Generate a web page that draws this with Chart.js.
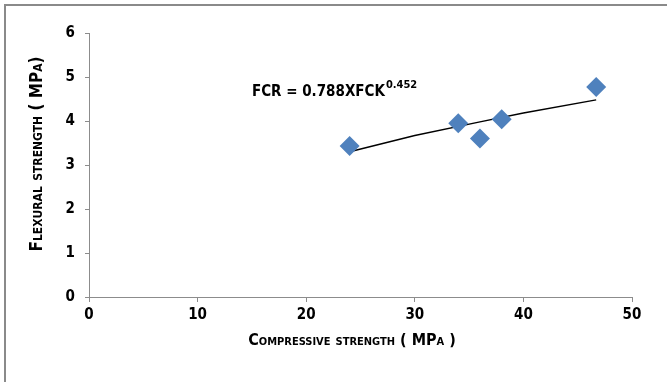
<!DOCTYPE html>
<html><head><meta charset="utf-8">
<script src="https://cdn.jsdelivr.net/npm/chart.js@4.4.0/dist/chart.umd.min.js"></script>
<style>html,body{margin:0;padding:0;background:#fff}#wrap{width:667px;height:382px}</style>
</head><body><div id="wrap"><canvas id="c" width="667" height="382"></canvas></div>
<script>
const compressive = [24, 34, 36, 38, 46.7];
const flexural = [3.43, 3.95, 3.6, 4.04, 4.77];
const trendX = [24, 30, 36, 40, 46.7];
const trendY = [3.30, 3.67, 3.98, 4.18, 4.48];
const xTicks = [0, 10, 20, 30, 40, 50];
const yTicks = [0, 1, 2, 3, 4, 5, 6];
const xTitle = "Compressive strength ( MPa )";
const yTitle = "Flexural strength ( MPa)";
const eqMain = "FCR = 0.788XFCK";
const eqSup = "0.452";

const FAM = "'DejaVu Sans Condensed', 'DejaVu Sans', sans-serif";
const GRAY = '#8c8c8c';

const decor = {
  id: 'decor',
  afterDraw(chart) {
    const ctx = chart.ctx;
    ctx.save();
    ctx.strokeStyle = '#8a8a8a';
    ctx.lineWidth = 2;
    ctx.beginPath();
    ctx.moveTo(5, 382); ctx.lineTo(5, 5); ctx.lineTo(667, 5);
    ctx.stroke();
    ctx.fillStyle = '#000';
    ctx.font = "small-caps bold 16px " + FAM;
    ctx.textAlign = 'center'; ctx.textBaseline = 'middle';
    const xs = chart.scales.x;
    ctx.fillText(xTitle, 352, 341);
    ctx.font = "small-caps bold 17px " + FAM;
    ctx.translate(38, 154);
    ctx.rotate(-Math.PI / 2);
    ctx.fillText(yTitle, 0, 0);
    ctx.setTransform(1, 0, 0, 1, 0, 0);
    ctx.textAlign = 'left'; ctx.textBaseline = 'alphabetic';
    ctx.font = "bold 15px " + FAM;
    const x0 = 252, y0 = 96;
    ctx.fillText(eqMain, x0, y0);
    const w = ctx.measureText(eqMain).width;
    ctx.font = "bold 11px " + FAM;
    ctx.fillText(eqSup, x0 + w + 1, y0 - 8);
    ctx.restore();
  }
};

new Chart(document.getElementById('c'), {
  type: 'scatter',
  data: {
    datasets: [
      {
        type: 'line',
        data: trendX.map((x, i) => ({x, y: trendY[i]})),
        borderColor: '#000', borderWidth: 1.5, pointRadius: 0, fill: false, tension: 0, order: 2
      },
      {
        data: compressive.map((x, i) => ({x, y: flexural[i]})),
        pointStyle: 'rectRot', pointRadius: 10, pointHoverRadius: 10,
        backgroundColor: '#4F81BD', borderColor: '#4F81BD', borderWidth: 0, order: 1
      }
    ]
  },
  options: {
    responsive: false, animation: false, devicePixelRatio: 1,
    layout: { padding: { left: 0, right: 35, top: 33, bottom: 0 } },
    plugins: { legend: { display: false }, tooltip: { enabled: false } },
    scales: {
      x: {
        type: 'linear', min: 0, max: 50,
        afterBuildTicks: s => { s.ticks = xTicks.map(v => ({value: v})); },
        afterFit: s => { s.height = 85; },
        grid: { drawOnChartArea: false, drawTicks: true, tickLength: 5, color: GRAY },
        border: { color: GRAY, width: 1 },
        ticks: { color: '#000', font: { family: FAM, weight: 'bold', size: 15 }, padding: 4, maxRotation: 0 }
      },
      y: {
        type: 'linear', min: 0, max: 6,
        afterBuildTicks: s => { s.ticks = yTicks.map(v => ({value: v})); },
        afterFit: s => { s.width = 89; },
        grid: { drawOnChartArea: false, drawTicks: true, tickLength: 4, color: GRAY },
        border: { color: GRAY, width: 1 },
        ticks: { color: '#000', font: { family: FAM, weight: 'bold', size: 15 }, padding: 10 }
      }
    }
  },
  plugins: [decor]
});
</script></body></html>
